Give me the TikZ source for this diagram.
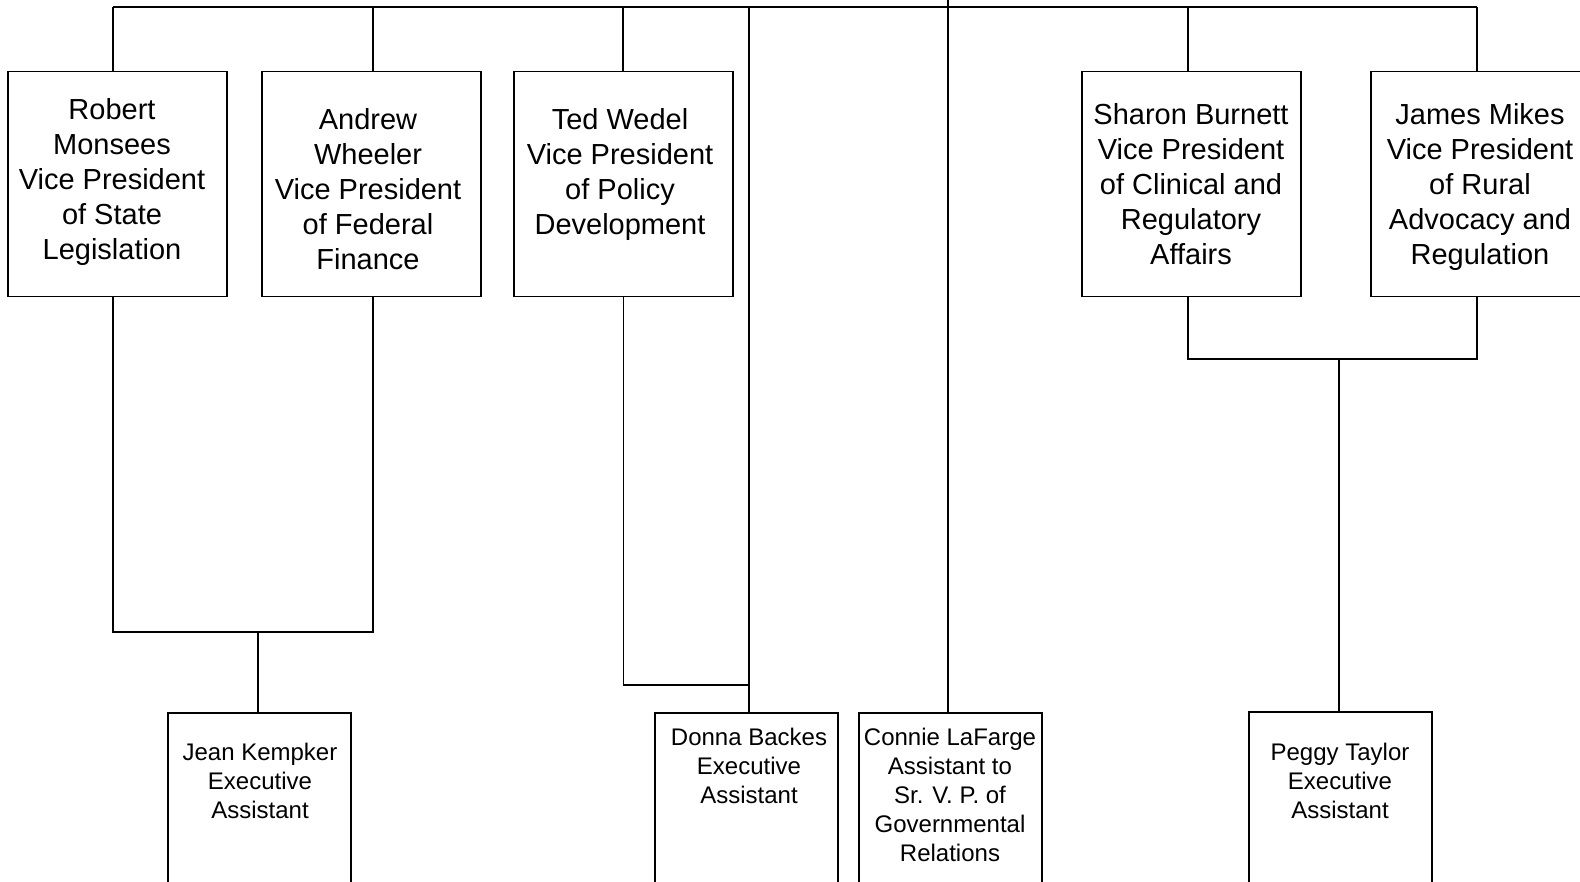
\documentclass[tikz,border=0pt]{standalone}
\usepackage{fontspec}
\setmainfont{Liberation Sans}
\begin{document}
\begin{tikzpicture}[x=1pt,y=-1pt,line width=1.5pt,
		vpbox/.style={draw,minimum width=219pt,minimum height=225pt,anchor=north west,inner sep=0pt},
		eabox/.style={draw,minimum width=183pt,minimum height=230pt,anchor=north west,inner sep=0pt},
		vptext/.style={align=center,anchor=north,inner sep=0pt,font=\fontsize{29}{35}\selectfont},
		eatext/.style={align=center,anchor=north,inner sep=0pt,font=\fontsize{24}{29}\selectfont}]
	\useasboundingbox (0,0) rectangle (1580,882);
	\clip (0,0) rectangle (1580,882);
	
	% taps on the top bar
	\coordinate (top) at (948,-3);
	\coordinate (tapr) at (113,7);
	\coordinate (tapa) at (373,7);
	\coordinate (tapt) at (623,7);
	\coordinate (tapd) at (749,7);
	\coordinate (taps) at (1188,7);
	\coordinate (tapj) at (1477,7);
	
	% vice presidents
	\node[vpbox] (robert) at (7,71) {};
	\node[vpbox] (andrew) at (261,71) {};
	\node[vpbox] (ted) at (513,71) {};
	\node[vpbox] (sharon) at (1081,71) {};
	\node[vpbox] (james) at (1370,71) {};
	
	\node[vptext] at (112,98) {Robert\\Monsees\\Vice President\\of State\\Legislation};
	\node[vptext] at (368,108) {Andrew\\Wheeler\\Vice President\\of Federal\\Finance};
	\node[vptext] at (620,108) {Ted Wedel\\Vice President\\of Policy\\Development};
	\node[vptext] at (1191,103) {Sharon Burnett\\Vice President\\of Clinical and\\Regulatory\\Affairs};
	\node[vptext] at (1480,103) {James Mikes\\Vice President\\of Rural\\Advocacy and\\Regulation};
	
	% assistants
	\node[eabox] (jean) at (167,712) {};
	\node[eabox] (donna) at (654,712) {};
	\node[eabox] (connie) at (858,712) {};
	\node[eabox] (peggy) at (1248,711) {};
	
	\node[eatext] at (260,742) {Jean Kempker\\Executive\\Assistant};
	\node[eatext] at (749,727) {Donna Backes\\Executive\\Assistant};
	\node[eatext] at (950,727) {Connie LaFarge\\Assistant to\\Sr. V. P. of\\Governmental\\Relations};
	\node[eatext] at (1340,742) {Peggy Taylor\\Executive\\Assistant};
	
	% connectors
	\draw (tapr) -- (tapj);
	\draw (top) -- (top |- connie.north);
	\draw (tapr) -- (tapr |- robert.north);
	\draw (tapa) -- (tapa |- andrew.north);
	\draw (tapt) -- (tapt |- ted.north);
	\draw (taps) -- (taps |- sharon.north);
	\draw (tapj) -- (tapj |- james.north);
	\draw (tapd) -- (tapd |- donna.north);
	
	\coordinate (joinl) at (258,632);
	\coordinate (joind) at (749,685);
	\coordinate (joinr) at (1339,359);
	
	\draw (tapr |- robert.south) -- (tapr |- joinl) -- (tapa |- joinl) -- (tapa |- andrew.south);
	\draw (joinl) -- (joinl |- jean.north);
	\draw (ted.south) |- (joind);
	\draw (taps |- sharon.south) -- (taps |- joinr) -- (tapj |- joinr) -- (tapj |- james.south);
	\draw (joinr) -- (joinr |- peggy.north);
\end{tikzpicture}
\end{document}
